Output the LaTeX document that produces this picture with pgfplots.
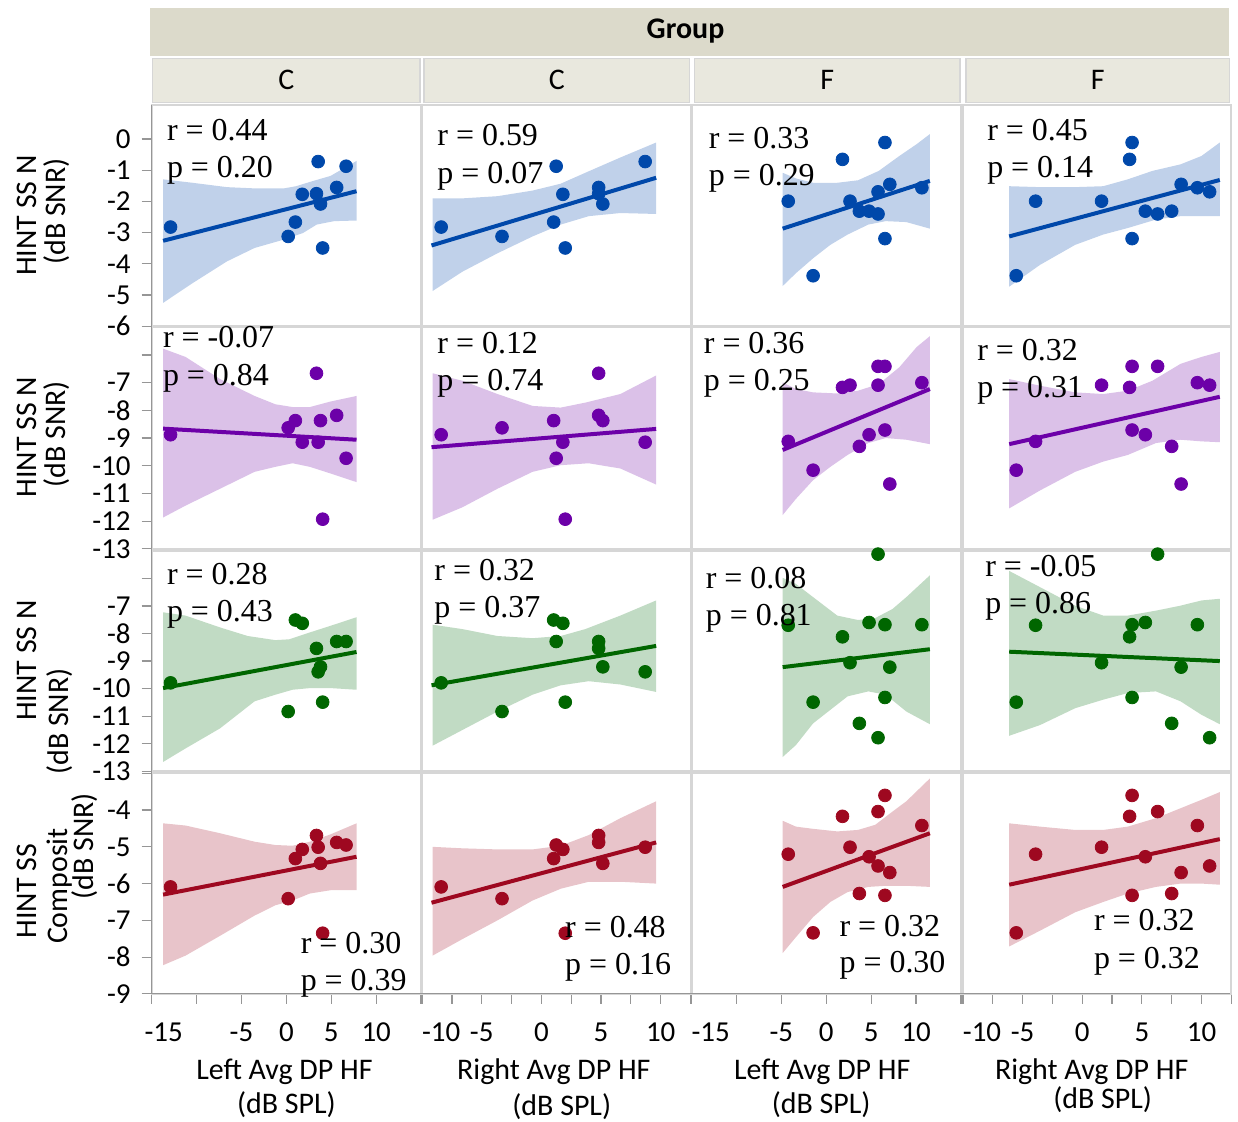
\documentclass[border=0pt]{standalone}
\usepackage{pgfplots}
\pgfplotsset{compat=1.18}
\usepackage{pgfplotstable}
\usepackage{fontspec}
\setmainfont{Carlito}
\newfontfamily\statfont{Liberation Serif}

\definecolor{c1}{RGB}{0,72,170}
\definecolor{b1}{RGB}{192,209,234}
\definecolor{c2}{RGB}{108,0,168}
\definecolor{b2}{RGB}{219,193,232}
\definecolor{c3}{RGB}{0,102,0}
\definecolor{b3}{RGB}{193,219,196}
\definecolor{c4}{RGB}{158,8,32}
\definecolor{b4}{RGB}{232,196,202}
\definecolor{frame}{RGB}{214,214,214}
\definecolor{axisgray}{RGB}{150,150,150}
\definecolor{grouphead}{RGB}{220,218,203}
\definecolor{cellhead}{RGB}{233,232,222}

% Group C: left / right average DP HF (dB SPL) and four HINT scores (dB SNR)
\pgfplotstableread{
L     R     y1     y2      y3      y4
-12.9 -8.4  -2.82  -8.88   -9.79   -6.09
3.54  8.7   -0.72  -9.15   -9.39   -5.01
6.65  1.24  -0.87  -9.73   -8.29   -4.95
1.77  1.8   -1.77  -9.15   -7.63   -5.07
3.35  4.8   -1.75  -6.66   -8.54   -4.69
5.6   4.8   -1.55  -8.18   -8.29   -4.88
3.8   5.15  -2.08  -8.37   -9.21   -5.45
1.0   1.03  -2.66  -8.37   -7.51   -5.32
0.2   -3.3  -3.12  -8.63   -10.83  -6.41
4.04  2.0   -3.49  -11.93  -10.49  -7.35
}\groupC

% Group F
\pgfplotstableread{
L     R     y1     y2      y3      y4
-1.46 -5.53 -4.38  -10.16  -10.49  -7.34
-4.23 -3.91 -1.99  -9.12   -7.70   -5.20
2.65  1.62  -1.99  -7.09   -9.06   -5.01
1.81  3.97  -0.65  -7.17   -8.12   -4.17
6.54  4.18  -0.11  -6.41   -7.68   -3.60
6.54  4.18  -3.19  -8.71   -10.32  -6.32
3.69  7.5   -2.31  -9.30   -11.26  -6.27
4.77  5.29  -2.31  -8.88   -7.60   -5.27
5.77  6.32  -2.40  -6.41   -5.12   -4.04
5.77  10.68 -1.69  -7.09   -11.78  -5.52
7.08  8.29  -1.45  -10.66  -9.22   -5.70
10.65 9.65  -1.56  -7.00   -7.68   -4.42
}\groupF

\pgfplotsset{
  panel/.style={scale only axis, clip=true, anchor=north west,
    axis line style={draw=frame, line width=1pt},
    xtick=\empty, ytick=\empty,
    tick style={draw=axisgray, line width=0.6pt},
    major tick length=5pt, tick align=outside,
    ticklabel style={font=\fontsize{14.5}{16}\selectfont, text=black},
    xticklabel style={yshift=-6pt},
    yticklabel style={xshift=-2pt}},
  colL/.style={xmin=-15, xmax=15, width=135pt},
  colR/.style={xmin=-10, xmax=12.5, width=134.5pt},
  rowA/.style={ymin=-6, ymax=1.1, height=111pt},
  rowB/.style={ymin=-13, ymax=-5, height=111pt},
  rowC/.style={ymin=-13, ymax=-5, height=110.5pt},
  rowD/.style={ymin=-9, ymax=-3, height=110.5pt},
  yA/.style={ytick={0,-1,...,-6}, yticklabels={0,-1,-2,-3,-4,-5,-6}, ytick pos=left},
  yB/.style={ytick={-13,-12,...,-6}, yticklabels={-13,-12,-11,-10,-9,-8,-7,{}}, ytick pos=left},
  yD/.style={ytick={-9,-8,...,-3}, yticklabels={-9,-8,-7,-6,-5,-4,{}}, ytick pos=left},
  xLfirst/.style={xtick={-15,-10,...,15}, xticklabels={\hspace*{12pt}-15,{},-5,0,5,10,{}}, xtick pos=bottom},
  xL/.style={xtick={-15,-10,...,15}, xticklabels={\rlap{-15},{},-5,0,5,10,{}}, xtick pos=bottom},
  xR/.style={xtick={-10,-7.5,...,12.5}, xticklabels={\rlap{-10},{},-5,{},0,{},5,{},10,{}}, xtick pos=bottom},
  dots/.style={only marks, mark=*, mark size=3.2pt},
  fit/.style={line width=2pt},
}

\begin{document}
\begin{tikzpicture}

% ---------- row 1 ----------
\begin{axis}[panel, colL, rowA, yA, at={(76pt,-52.5pt)}]
\addplot[fill=b1, draw=none] coordinates {(-13.73,-1.29) (-10.46,-1.40) (-6.62,-1.54) (-3.54,-1.58) (-0.27,-1.58) (1.08,-1.51) (3.0,-1.34) (4.92,-1.18) (7.81,-0.70)
 (7.81,-2.61) (5.31,-2.63) (3.38,-2.74) (1.85,-3.01) (-0.27,-3.22) (-3.54,-3.49) (-6.62,-3.92) (-10.46,-4.62) (-13.73,-5.25)} -- cycle;
\addplot[c1, fit] coordinates {(-13.73,-3.26) (7.81,-1.67)};
\addplot[c1, dots] table[x=L, y=y1] {\groupC};
\end{axis}
\begin{axis}[panel, colR, rowA, at={(211.5pt,-52.5pt)}]
\addplot[fill=b1, draw=none] coordinates {(-9.12,-1.90) (-6.62,-1.90) (-3.68,-1.83) (-0.74,-1.65) (1.62,-1.43) (3.68,-1.08) (6.62,-0.59) (9.62,-0.11)
 (9.62,-2.40) (6.62,-2.37) (3.97,-2.47) (1.62,-2.74) (-0.74,-3.12) (-3.68,-3.66) (-6.62,-4.25) (-9.12,-4.87)} -- cycle;
\addplot[c1, fit] coordinates {(-9.21,-3.41) (9.62,-1.24)};
\addplot[c1, dots] table[x=R, y=y1] {\groupC};
\end{axis}
\begin{axis}[panel, colL, rowA, at={(346.5pt,-52.5pt)}]
\addplot[fill=b1, draw=none] coordinates {(-4.85,-1.08) (-3.38,-1.26) (-1.46,-1.40) (1.23,-1.40) (3.54,-1.32) (5.85,-1.02) (8.15,-0.54) (10.08,-0.16) (11.54,0.16)
 (11.54,-2.87) (8.92,-2.66) (6.62,-2.63) (4.69,-2.74) (2.38,-3.06) (0.46,-3.39) (-1.46,-3.82) (-3.38,-4.30) (-4.85,-4.71)} -- cycle;
\addplot[c1, fit] coordinates {(-4.85,-2.87) (11.54,-1.34)};
\addplot[c1, dots] table[x=L, y=y1] {\groupF};
\end{axis}
\begin{axis}[panel, colR, rowA, at={(482.5pt,-52.5pt)}]
\addplot[fill=b1, draw=none] coordinates {(-6.12,-1.51) (-3.53,-1.54) (-0.59,-1.54) (1.76,-1.51) (3.82,-1.29) (5.88,-1.02) (8.24,-0.81) (10.0,-0.54) (11.53,-0.11)
 (11.53,-2.47) (10.0,-2.47) (8.24,-2.47) (6.18,-2.58) (3.82,-2.85) (1.76,-3.06) (-0.59,-3.39) (-3.53,-4.03) (-6.12,-4.73)} -- cycle;
\addplot[c1, fit] coordinates {(-6.12,-3.12) (11.53,-1.31)};
\addplot[c1, dots] table[x=R, y=y1] {\groupF};
\end{axis}

% ---------- row 2 ----------
\begin{axis}[panel, colL, rowB, yB, at={(76pt,-164pt)}]
\addplot[fill=b2, draw=none] coordinates {(-13.73,-5.77) (-11.23,-6.07) (-7.38,-6.87) (-3.54,-7.48) (-1.23,-7.78) (0.69,-7.88) (2.62,-7.88) (4.92,-7.68) (7.81,-7.48)
 (7.81,-10.59) (4.92,-10.28) (2.62,-10.04) (0.69,-9.91) (-1.23,-10.04) (-3.54,-10.22) (-7.38,-10.83) (-11.23,-11.44) (-13.73,-11.87)} -- cycle;
\addplot[c2, fit] coordinates {(-13.73,-8.66) (7.81,-9.06)};
\addplot[c2, dots] table[x=L, y=y2] {\groupC};
\end{axis}
\begin{axis}[panel, colR, rowB, at={(211.5pt,-164pt)}]
\addplot[fill=b2, draw=none] coordinates {(-9.12,-6.66) (-6.62,-6.93) (-3.68,-7.41) (-0.74,-7.84) (1.62,-7.90) (3.68,-7.72) (6.62,-7.41) (9.62,-6.74)
 (9.62,-10.68) (6.62,-10.10) (3.97,-9.91) (1.62,-9.98) (-0.74,-10.22) (-3.68,-10.83) (-6.62,-11.50) (-9.12,-11.95)} -- cycle;
\addplot[c2, fit] coordinates {(-9.21,-9.33) (9.62,-8.67)};
\addplot[c2, dots] table[x=R, y=y2] {\groupC};
\end{axis}
\begin{axis}[panel, colL, rowB, at={(346.5pt,-164pt)}]
\addplot[fill=b2, draw=none] coordinates {(-4.85,-6.99) (-3.38,-7.23) (-1.46,-7.35) (1.23,-7.39) (3.54,-7.29) (5.85,-7.05) (8.15,-6.44) (10.08,-5.71) (11.54,-5.32)
 (11.54,-9.22) (8.92,-9.06) (6.62,-9.0) (4.69,-9.18) (2.38,-9.61) (0.46,-10.04) (-1.46,-10.52) (-3.38,-11.20) (-4.85,-11.78)} -- cycle;
\addplot[c2, fit] coordinates {(-4.85,-9.43) (11.54,-7.23)};
\addplot[c2, dots] table[x=L, y=y2] {\groupF};
\end{axis}
\begin{axis}[panel, colR, rowB, at={(482.5pt,-164pt)}]
\addplot[fill=b2, draw=none] coordinates {(-6.12,-6.87) (-3.53,-7.11) (-0.59,-7.35) (1.76,-7.41) (3.82,-7.29) (5.88,-6.93) (8.24,-6.32) (10.0,-6.07) (11.53,-5.89)
 (11.53,-9.15) (10.0,-9.12) (8.24,-9.06) (6.18,-9.18) (3.82,-9.61) (1.76,-9.85) (-0.59,-10.22) (-3.53,-10.89) (-6.12,-11.54)} -- cycle;
\addplot[c2, fit] coordinates {(-6.12,-9.22) (11.53,-7.51)};
\addplot[c2, dots] table[x=R, y=y2] {\groupF};
\end{axis}

% ---------- row 3 ----------
\begin{axis}[panel, colL, rowC, yB, at={(76pt,-276pt)}]
\addplot[fill=b3, draw=none] coordinates {(-13.73,-7.23) (-11.23,-7.35) (-7.38,-7.78) (-4.31,-8.09) (-1.23,-8.24) (0.31,-8.21) (2.62,-7.96) (4.92,-7.72) (7.81,-7.41)
 (7.81,-10.04) (4.92,-9.98) (2.62,-9.98) (0.69,-10.04) (-1.23,-10.22) (-3.54,-10.46) (-7.38,-11.44) (-11.23,-12.17) (-13.73,-12.66)} -- cycle;
\addplot[c3, fit] coordinates {(-13.73,-9.98) (7.81,-8.67)};
\addplot[c3, dots] table[x=L, y=y3] {\groupC};
\end{axis}
\begin{axis}[panel, colR, rowC, at={(211.5pt,-276pt)}]
\addplot[fill=b3, draw=none] coordinates {(-9.12,-7.68) (-6.62,-7.84) (-3.68,-8.09) (-0.74,-8.17) (1.62,-8.09) (3.68,-7.84) (6.62,-7.35) (9.62,-6.80)
 (9.62,-10.12) (6.62,-9.85) (3.97,-9.73) (1.62,-9.88) (-0.74,-10.22) (-3.68,-10.83) (-6.62,-11.50) (-9.12,-12.07)} -- cycle;
\addplot[c3, fit] coordinates {(-9.21,-9.88) (9.62,-8.45)};
\addplot[c3, dots] table[x=R, y=y3] {\groupC};
\end{axis}
\begin{axis}[panel, colL, rowC, at={(346.5pt,-276pt)}]
\addplot[fill=b3, draw=none] coordinates {(-4.85,-5.98) (-3.38,-6.20) (-1.46,-6.68) (1.23,-7.35) (3.54,-7.51) (5.46,-7.44) (7.38,-7.11) (8.92,-6.68) (11.54,-5.89)
 (11.54,-11.29) (8.92,-10.83) (6.62,-10.22) (4.69,-10.10) (2.38,-10.28) (0.46,-10.77) (-1.46,-11.26) (-3.38,-12.05) (-4.85,-12.48)} -- cycle;
\addplot[c3, fit] coordinates {(-4.85,-9.22) (11.54,-8.57)};
\addplot[c3, dots] table[x=L, y=y3] {\groupF};
\end{axis}
\begin{axis}[panel, colR, rowC, at={(482.5pt,-276pt)}]
\addplot[fill=b3, draw=none] coordinates {(-6.12,-5.73) (-3.53,-6.32) (-0.59,-6.99) (1.76,-7.35) (3.82,-7.35) (6.18,-7.17) (8.24,-6.99) (10.0,-6.80) (11.53,-6.74)
 (11.53,-11.29) (10.0,-10.95) (8.24,-10.46) (6.18,-10.10) (3.82,-10.16) (1.76,-10.40) (-0.59,-10.71) (-3.53,-11.32) (-6.12,-11.71)} -- cycle;
\addplot[c3, fit] coordinates {(-6.12,-8.66) (11.53,-9.0)};
\addplot[c3, dots] table[x=R, y=y3] {\groupF};
\end{axis}

% ---------- row 4 ----------
\begin{axis}[panel, colL, rowD, yD, xLfirst, at={(76pt,-387.5pt)}]
\addplot[fill=b4, draw=none] coordinates {(-13.73,-4.36) (-11.23,-4.42) (-7.38,-4.63) (-3.54,-4.86) (-1.23,-4.95) (0.69,-4.97) (2.62,-4.86) (4.92,-4.66) (7.81,-4.36)
 (7.81,-6.18) (4.92,-6.18) (2.62,-6.27) (0.69,-6.46) (-1.23,-6.59) (-3.54,-6.87) (-7.38,-7.42) (-11.23,-7.96) (-13.73,-8.22)} -- cycle;
\addplot[c4, fit] coordinates {(-13.73,-6.30) (7.81,-5.27)};
\addplot[c4, dots] table[x=L, y=y4] {\groupC};
\end{axis}
\begin{axis}[panel, colR, rowD, xR, at={(211.5pt,-387.5pt)}]
\addplot[fill=b4, draw=none] coordinates {(-9.12,-5.0) (-6.62,-5.04) (-3.68,-5.07) (-0.74,-5.07) (1.62,-4.97) (3.97,-4.68) (6.62,-4.22) (9.62,-3.76)
 (9.62,-6.0) (6.62,-5.95) (3.97,-5.95) (1.62,-6.14) (-0.74,-6.46) (-3.68,-7.0) (-6.62,-7.51) (-9.12,-7.96)} -- cycle;
\addplot[c4, fit] coordinates {(-9.21,-6.52) (9.62,-4.88)};
\addplot[c4, dots] table[x=R, y=y4] {\groupC};
\end{axis}
\begin{axis}[panel, colL, rowD, xL, at={(346.5pt,-387.5pt)}]
\addplot[fill=b4, draw=none] coordinates {(-4.85,-4.29) (-3.38,-4.45) (-1.46,-4.51) (1.23,-4.58) (3.54,-4.54) (5.46,-4.40) (7.38,-4.04) (8.92,-3.76) (11.54,-3.14)
 (11.54,-6.09) (8.92,-6.06) (6.62,-6.06) (4.69,-6.09) (2.38,-6.23) (0.46,-6.50) (-1.46,-6.91) (-3.38,-7.46) (-4.85,-7.89)} -- cycle;
\addplot[c4, fit] coordinates {(-4.85,-6.09) (11.54,-4.63)};
\addplot[c4, dots] table[x=L, y=y4] {\groupF};
\end{axis}
\begin{axis}[panel, colR, rowD, xR, at={(482.5pt,-387.5pt)}]
\addplot[fill=b4, draw=none] coordinates {(-6.12,-4.36) (-3.53,-4.45) (-0.59,-4.54) (1.76,-4.54) (3.82,-4.45) (6.18,-4.22) (8.24,-3.95) (10.0,-3.72) (11.53,-3.51)
 (11.53,-6.03) (10.0,-6.0) (8.24,-6.0) (6.18,-6.09) (3.82,-6.27) (1.76,-6.50) (-0.59,-6.78) (-3.53,-7.28) (-6.12,-7.71)} -- cycle;
\addplot[c4, fit] coordinates {(-6.12,-6.03) (11.53,-4.79)};
\addplot[c4, dots] table[x=R, y=y4] {\groupF};
\end{axis}

% ---------- frame, headers, labels (pixel-like units) ----------
\begin{scope}[x=0.5pt, y=-0.5pt]
\path (0,0) rectangle (1238,1124);
\draw[axisgray, line width=0.6pt] (152,105) -- (152,996) -- (1233,996);

% facet headers
\fill[grouphead] (150,8) rectangle (1232,56);
\node[font=\bfseries\fontsize{15}{18}\selectfont] at (687,31) {Group};
\foreach \a/\b/\t in {153/421/C, 425/691/C, 696/962/F, 968/1232/F}{
  \fill[cellhead, draw=frame, line width=0.6pt] (\a,59) rectangle (\b,103);
  \node[font=\fontsize{15}{18}\selectfont] at ({(\a+\b)/2},80) {\t};
}

% statistics
\begin{scope}[every node/.style={anchor=base west, inner sep=0pt, font=\statfont\fontsize{16}{18}\selectfont}]
\node at (167,141) {r = 0.44};  \node at (167,178) {p = 0.20};
\node at (438,146) {r = 0.59};  \node at (438,184) {p = 0.07};
\node at (710,149) {r = 0.33};  \node at (710,186) {p = 0.29};
\node at (989,141) {r = 0.45};  \node at (989,178) {p = 0.14};
\node at (163,348) {r = -0.07}; \node at (163,386) {p = 0.84};
\node at (438,354) {r = 0.12};  \node at (438,391) {p = 0.74};
\node at (705,354) {r = 0.36};  \node at (705,391) {p = 0.25};
\node at (979,361) {r = 0.32};  \node at (979,398) {p = 0.31};
\node at (167,586) {r = 0.28};  \node at (167,623) {p = 0.43};
\node at (435,582) {r = 0.32};  \node at (435,619) {p = 0.37};
\node at (707,590) {r = 0.08};  \node at (707,627) {p = 0.81};
\node at (987,578) {r = -0.05}; \node at (987,615) {p = 0.86};
\node at (301,956) {r = 0.30};  \node at (301,993) {p = 0.39};
\node at (566,940) {r = 0.48};  \node at (566,977) {p = 0.16};
\node at (841,939) {r = 0.32};  \node at (841,975) {p = 0.30};
\node at (1096,933) {r = 0.32}; \node at (1096,971) {p = 0.32};
\end{scope}

% axis titles
\begin{scope}[every node/.style={inner sep=0pt, font=\fontsize{15}{18}\selectfont}]
\node at (285,1074) {Left Avg DP HF};  \node at (287,1107) {(dB SPL)};
\node at (555,1074) {Right Avg DP HF}; \node at (563,1109) {(dB SPL)};
\node at (824,1074) {Left Avg DP HF};  \node at (823,1107) {(dB SPL)};
\node at (1094,1074) {Right Avg DP HF};\node at (1105,1102) {(dB SPL)};
\node[rotate=90] at (27,216) {HINT SS N}; \node[rotate=90] at (57,212) {(dB SNR)};
\node[rotate=90] at (27,438) {HINT SS N}; \node[rotate=90] at (57,435) {(dB SNR)};
\node[rotate=90] at (27,662) {HINT SS N}; \node[rotate=90] at (60,723) {(dB SNR)};
\node[rotate=90] at (27,893) {HINT SS};   \node[rotate=90] at (60,888) {Composit};
\node[rotate=90] at (85,848) {(dB SNR)};
\end{scope}
\end{scope}
\end{tikzpicture}
\end{document}
